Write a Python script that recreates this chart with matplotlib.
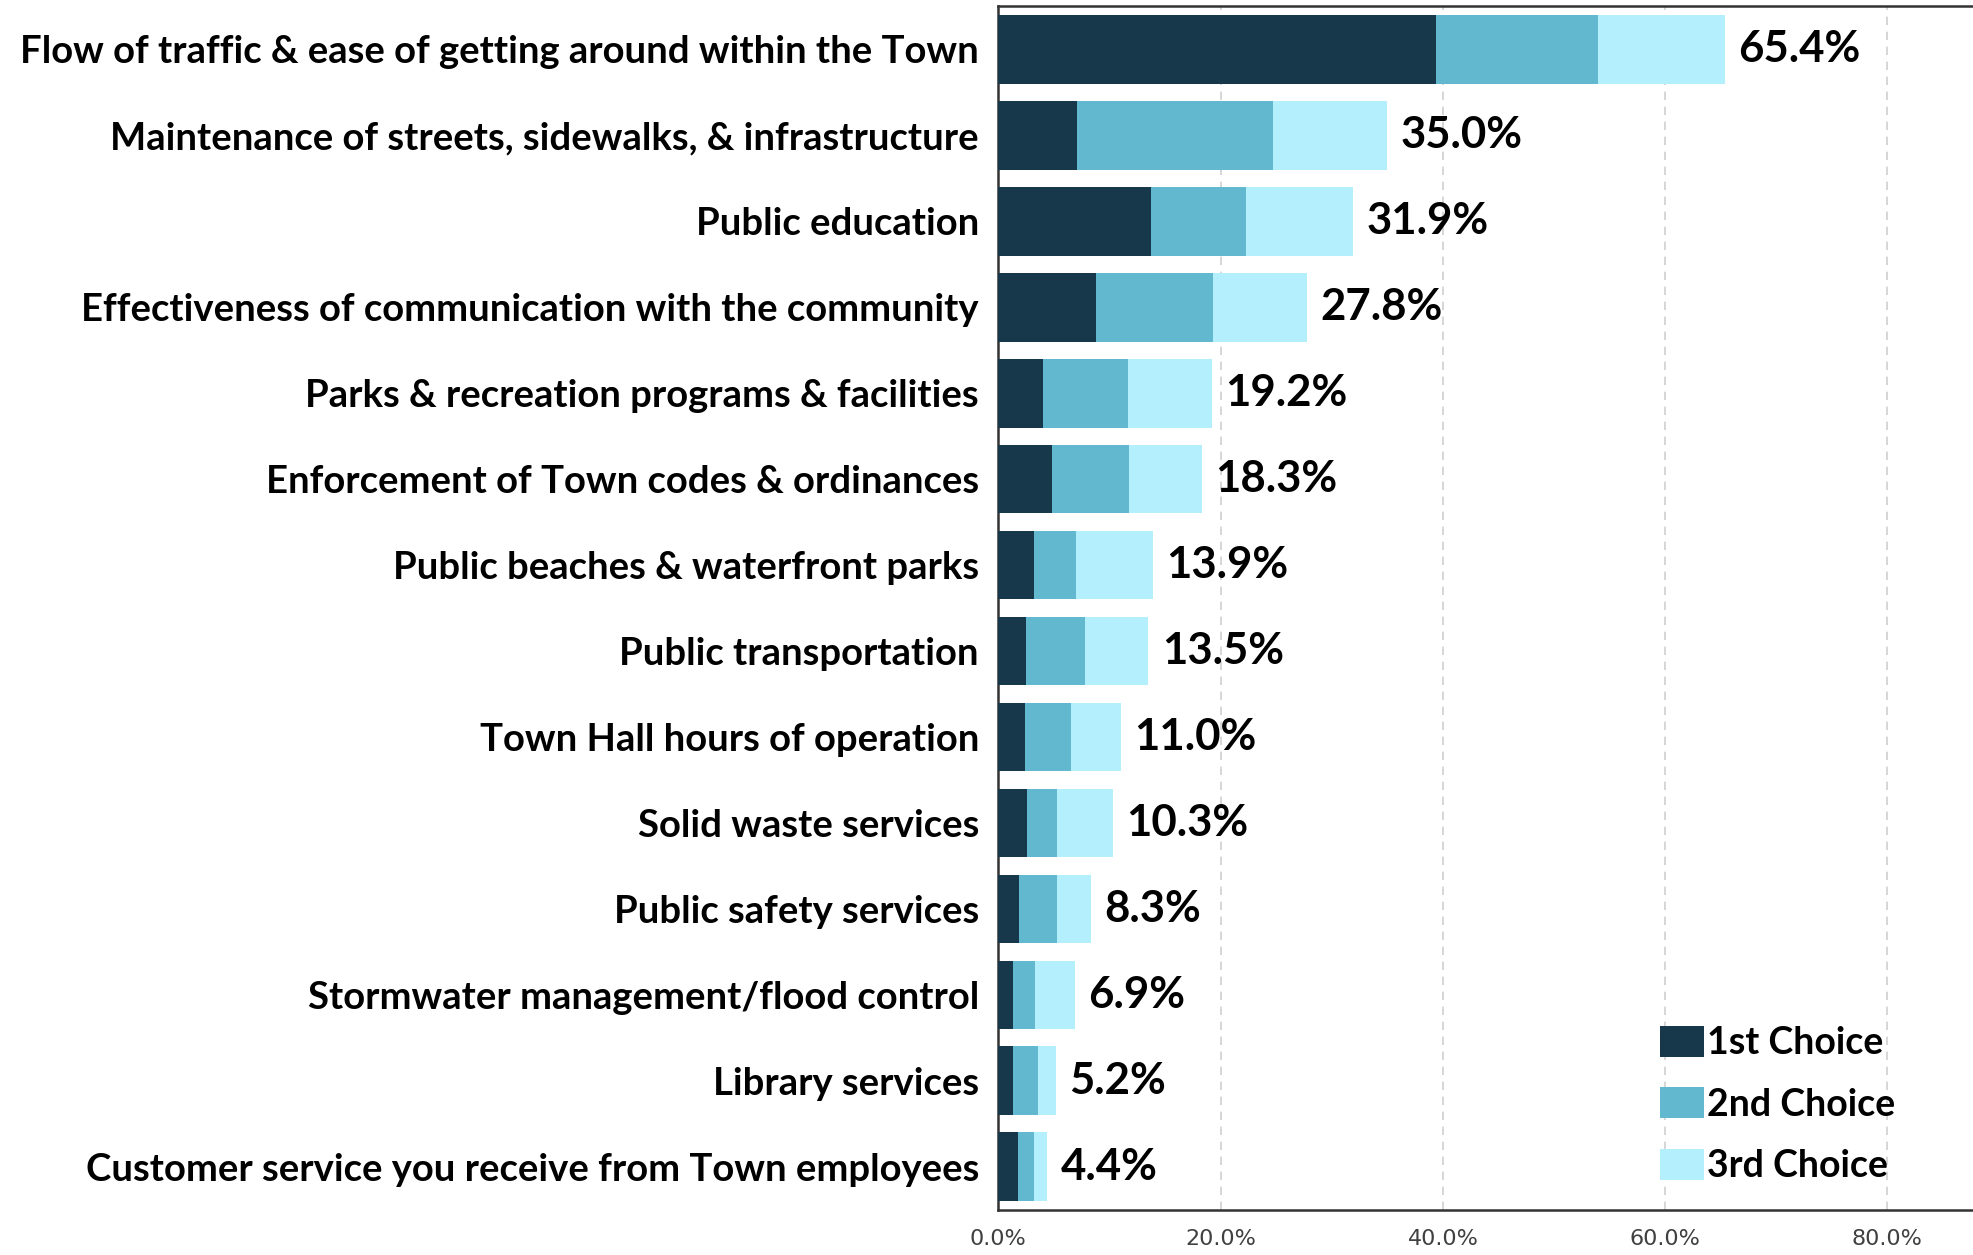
import matplotlib.pyplot as plt
from matplotlib.ticker import FuncFormatter

categories = [
    "Flow of traffic & ease of getting around within the Town",
    "Maintenance of streets, sidewalks, & infrastructure",
    "Public education",
    "Effectiveness of communication with the community",
    "Parks & recreation programs & facilities",
    "Enforcement of Town codes & ordinances",
    "Public beaches & waterfront parks",
    "Public transportation",
    "Town Hall hours of operation",
    "Solid waste services",
    "Public safety services",
    "Stormwater management/flood control",
    "Library services",
    "Customer service you receive from Town employees",
]
first = [39.4, 7.1, 13.7, 8.8, 4.0, 4.8, 3.2, 2.5, 2.4, 2.6, 1.9, 1.3, 1.3, 1.8]
second = [14.6, 17.6, 8.6, 10.5, 7.7, 7.0, 3.8, 5.3, 4.1, 2.7, 3.4, 2.0, 2.3, 1.4]
third = [11.4, 10.3, 9.6, 8.5, 7.5, 6.5, 6.9, 5.7, 4.5, 5.0, 3.0, 3.6, 1.6, 1.2]
totals = [65.4, 35.0, 31.9, 27.8, 19.2, 18.3, 13.9, 13.5, 11.0, 10.3, 8.3, 6.9, 5.2, 4.4]
series_names = ["1st Choice", "2nd Choice", "3rd Choice"]
colors = ["#17374b", "#62b8cf", "#b3effd"]

fig = plt.figure(figsize=(19.73, 12.55), dpi=100)
ax = fig.add_axes([0.506, 0.036, 0.494, 0.959])

y = list(range(len(categories)))
left = [0.0] * len(categories)
for vals, name, c in zip([first, second, third], series_names, colors):
    ax.barh(y, vals, left=left, height=0.8, color=c, label=name, zorder=3)
    left = [l + v for l, v in zip(left, vals)]

for yi, tot, end in zip(y, totals, left):
    ax.text(end + 1.2, yi, f"{tot:.1f}%", va="center", ha="left",
            fontsize=31.5, fontweight="bold", family="Lato")

ax.set_ylim(len(categories) - 0.5, -0.5)
ax.set_xlim(0, 87.7)
ax.set_xticks([0, 20, 40, 60, 80])
ax.xaxis.set_major_formatter(FuncFormatter(lambda v, p: f"{v:.1f}%"))
ax.grid(axis="x", color="#d0d0d0", linestyle=(0, (5, 4)), linewidth=1.2, zorder=0)

ax.set_yticks(y)
ax.set_yticklabels(categories, fontsize=27.5, fontweight="bold", family="Lato")
ax.tick_params(axis="y", length=0, pad=14)
ax.tick_params(axis="x", length=0, pad=14, labelsize=16, labelcolor="#404040")

for s in ["top", "left", "bottom"]:
    ax.spines[s].set_color("#333333")
    ax.spines[s].set_linewidth(1.8)
ax.spines["right"].set_visible(False)

leg = ax.legend(loc="lower right", bbox_to_anchor=(0.955, -0.006), frameon=False,
                prop={"family": "Lato", "weight": "bold", "size": 27},
                handlelength=1.15, handleheight=0.9, handletextpad=0.1,
                labelspacing=0.72)

fig.savefig("out.png", dpi=100)
